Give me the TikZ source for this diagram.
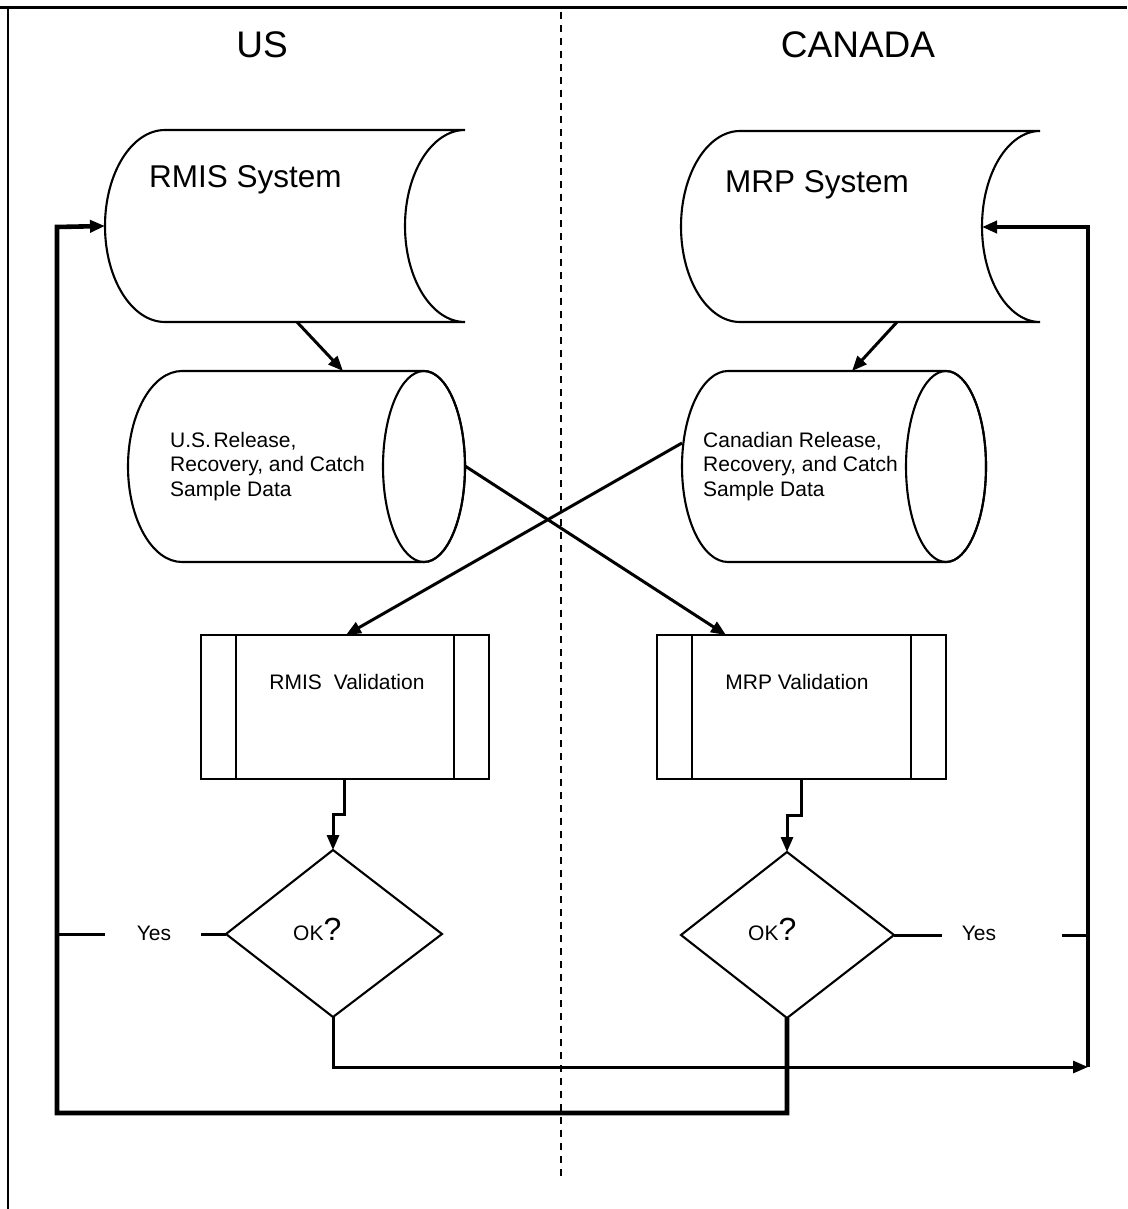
\documentclass[tikz,border=0pt]{standalone}
\usepackage{fontspec}
\setmainfont{Liberation Sans}
\usetikzlibrary{arrows.meta}
\tikzset{
  outline/.style={draw=black, line width=2.1pt, fill=white},
  thinline/.style={draw=black, line width=2.1pt},
  conn/.style={draw=black, line width=3pt, -{Triangle[length=15pt,width=12pt]}},
  plainconn/.style={draw=black, line width=3pt},
  heavy/.style={draw=black, line width=4.6pt},
  lbl/.style={inner sep=0pt, font=\fontsize{21}{24.5}\selectfont},
}
\begin{document}
\begin{tikzpicture}[x=1pt,y=-1pt]
\useasboundingbox (0,0) rectangle (1127,1209);
% frame
\draw[line width=3pt] (0,8) -- (1127,8);
\draw[line width=2.4pt] (8,7) -- (8,1209);
% divider
\draw[line width=2.4pt, dash pattern=on 7pt off 6pt] (561,12) -- (561,1182);
% titles
\node[inner sep=0pt, font=\fontsize{37}{37}\selectfont] (us) at (262,45) {US};
\node[inner sep=0pt, font=\fontsize{37}{37}\selectfont] (ca) at (858,45) {CANADA};

% RMIS System (stored data)
\draw[outline] (165,130) -- (465,130) arc[start angle=270,end angle=90,x radius=60,y radius=96]
  -- (165,322) arc[start angle=90,end angle=270,x radius=60,y radius=96] -- cycle;
\coordinate (rmisL) at (105,226);
\coordinate (rmisB) at (297,322);
\node[inner sep=0pt, anchor=west, font=\fontsize{31.5}{31.5}\selectfont] (rmist) at (149,180) {RMIS System};

% MRP System (stored data)
\draw[outline] (740,131) -- (1040,131) arc[start angle=270,end angle=90,x radius=58,y radius=95.5]
  -- (740,322) arc[start angle=90,end angle=270,x radius=59,y radius=95.5] -- cycle;
\coordinate (mrpR) at (982,227);
\coordinate (mrpB) at (897,322);
\node[inner sep=0pt, anchor=west, font=\fontsize{31.5}{31.5}\selectfont] (mrpt) at (725,185) {MRP System};

% US cylinder
\draw[outline] (182,371) -- (424,371) arc[start angle=270,end angle=450,x radius=41,y radius=95.5]
  -- (182,562) arc[start angle=90,end angle=270,x radius=54,y radius=95.5] -- cycle;
\draw[thinline] (424,466.5) ellipse[x radius=41,y radius=95.5];
\coordinate (uscT) at (343,371);
\coordinate (uscR) at (465,466);
\node[lbl, anchor=west, align=left] (usct) at (170,466.5) {U.S.\hspace{2.5pt}Release,\\Recovery, and Catch\\Sample Data};

% Canadian cylinder
\draw[outline] (728,371) -- (946,371) arc[start angle=270,end angle=450,x radius=40,y radius=95.5]
  -- (728,562) arc[start angle=90,end angle=270,x radius=46,y radius=95.5] -- cycle;
\draw[thinline] (946,466.5) ellipse[x radius=40,y radius=95.5];
\coordinate (cacT) at (852,371);
\coordinate (cacL) at (682,443);
\node[lbl, anchor=west, align=left] (cact) at (703,466.5) {Canadian Release,\\Recovery, and Catch\\Sample Data};

% RMIS Validation
\draw[outline] (201,635) rectangle (489,779);
\draw[thinline] (236,635) -- (236,779) (454,635) -- (454,779);
\coordinate (rvT) at (346,635);
\coordinate (rvB) at (344,779);
\node[lbl] (rvt) at (347,682) {RMIS\hspace{6pt} Validation};

% MRP Validation
\draw[outline] (657,635) rectangle (946,779);
\draw[thinline] (692,635) -- (692,779) (911,635) -- (911,779);
\coordinate (mvT) at (726,635);
\coordinate (mvB) at (801,779);
\node[lbl] (mvt) at (797,682) {MRP Validation};

% diamonds
\coordinate (d1T) at (333,850); \coordinate (d1L) at (226,934);
\coordinate (d1R) at (442,934); \coordinate (d1B) at (333,1017);
\draw[outline] (d1T) -- (d1R) -- (d1B) -- (d1L) -- cycle;
\node[inner sep=0pt, anchor=base west] (ok1) at (293,940) {\fontsize{21}{21}\selectfont OK\fontsize{32}{32}\selectfont ?};

\coordinate (d2T) at (787,852); \coordinate (d2L) at (681,935);
\coordinate (d2R) at (894,935); \coordinate (d2B) at (787,1018);
\draw[outline] (d2T) -- (d2R) -- (d2B) -- (d2L) -- cycle;
\node[inner sep=0pt, anchor=base west] (ok2) at (748,940) {\fontsize{21}{21}\selectfont OK\fontsize{32}{32}\selectfont ?};

% Yes labels
\node[lbl] (yes1) at (154,933) {Yes};
\node[lbl] (yes2) at (979,933) {Yes};

% connectors
\draw[conn] (rmisB) -- (uscT);
\draw[conn] (mrpB) -- (cacT);
\draw[conn] (uscR) -- (mvT);
\draw[conn] (cacL) -- (rvT);
\draw[conn] (rvB) -- (344,814) -- (333,814) -- (d1T);
\draw[conn] (mvB) -- (801,815) -- (787,815) -- (d2T);

\coordinate (lc) at (57,227);
\coordinate (rc) at (1088,227);
\coordinate (lb) at (57,1113);
\coordinate (rb) at (1088,1067);

% left yes line pieces
\draw[plainconn] (d1L) -- (201,934);
\draw[plainconn] (105,934) -- (57,934);
% right yes line pieces
\draw[plainconn] (d2R) -- (942,935);
\draw[plainconn] (1062,935) -- (1088,935);

% lower thin return
\draw[conn] (d1B) -- (333,1067) -- (rb);
% right heavy return
\draw[heavy, -{Triangle[length=15pt,width=12pt]}] (rb) -- (rc) -- (mrpR);
% left heavy return
\draw[heavy, -{Triangle[length=15pt,width=12pt]}] (d2B) -- (787,1113) -- (lb) -- (lc) -- (rmisL);
\end{tikzpicture}
\end{document}
